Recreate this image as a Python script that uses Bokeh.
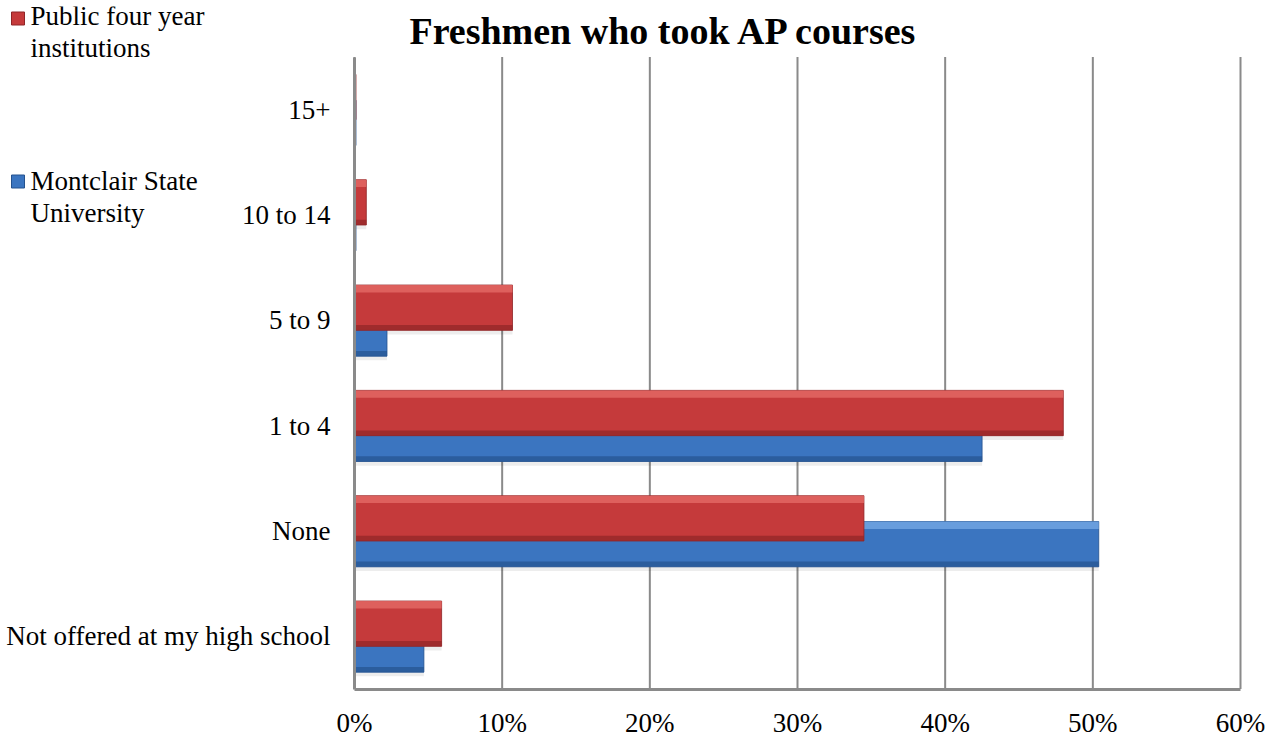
from bokeh.plotting import figure
from bokeh.models import (FactorRange, Range1d, FixedTicker, NumeralTickFormatter,
                          Label, ColumnDataSource)
from bokeh.transform import dodge
from bokeh.embed import file_html
from bokeh.resources import INLINE

# ---------------- data ----------------
title_text = "Freshmen who took AP courses"
categories = ["Not offered at my high school", "None", "1 to 4", "5 to 9", "10 to 14", "15+"]
public_four_year = [0.059, 0.345, 0.480, 0.107, 0.008, 0.001]
montclair_state = [0.047, 0.504, 0.425, 0.022, 0.001, 0.001]
x_ticks = [0.0, 0.1, 0.2, 0.3, 0.4, 0.5, 0.6]
legend_lines = [["Public four year", "institutions"], ["Montclair State", "University"]]

# ---------------- style / geometry ----------------
FONT = "Liberation Serif"
RED, RED_L, RED_D = "#C53A3B", "#E46A66", "#8F2527"
BLUE, BLUE_L, BLUE_D = "#3B75C0", "#74A7E3", "#25528E"
GRAY = "#8a8a8a"
W, HGT = 1282, 739
FR_TOP = 6                       # frame starts 6px below the top of the canvas
PLOT_L, PLOT_R = 354, 1240       # pixel extent of the 0%..60% scale
BAND = 632 / len(categories)     # pixel height of one category band
XMAX = x_ticks[-1]
pxu = (PLOT_R - PLOT_L) / XMAX
PAD = ((HGT - FR_TOP) - BAND * len(categories)) / 2 / BAND

def dx(px):
    return (px - PLOT_L) / pxu

def dy(py):
    return len(categories) + PAD - (py - FR_TOP) / BAND

src = ColumnDataSource(dict(cat=categories, pub=public_four_year, msu=montclair_state))
grid_src = ColumnDataSource(dict(x=x_ticks, lo=[categories[0]] * len(x_ticks),
                                 hi=[categories[-1]] * len(x_ticks)))

p = figure(title=None,
           y_range=FactorRange(factors=categories, range_padding=PAD, range_padding_units="absolute"),
           x_range=Range1d(dx(0), dx(W)),
           frame_width=W, frame_height=HGT - FR_TOP,
           min_border_left=0, min_border_right=0, min_border_top=FR_TOP, min_border_bottom=0,
           output_backend="svg", toolbar_location=None, background_fill_color="white",
           border_fill_color="white", outline_line_color=None)
p.grid.visible = False

# vertical grid lines restricted to the category area
p.segment(x0='x', x1='x', y0=dodge('lo', -0.5, range=p.y_range), y1=dodge('hi', 0.5, range=p.y_range),
          source=grid_src, line_color=GRAY, line_width=2)

H = 0.43
OFF_R, OFF_B = 0.12, -0.125

for off, col in ((OFF_B, 'msu'), (OFF_R, 'pub')):
    p.hbar(y=dodge('cat', off - 0.04, range=p.y_range), left=0, right=col, height=H,
           source=src, fill_color="#000000", fill_alpha=0.07, line_color=None)

def bar(off, col, base, light, dark):
    p.hbar(y=dodge('cat', off, range=p.y_range), left=0, right=col, height=H,
           source=src, fill_color=base, line_color=dark, line_width=0.8)
    p.hbar(y=dodge('cat', off + H / 2 - 0.035, range=p.y_range), left=0, right=col, height=0.07,
           source=src, fill_color=light, fill_alpha=0.8, line_color=None)
    p.hbar(y=dodge('cat', off - H / 2 + 0.025, range=p.y_range), left=0, right=col, height=0.05,
           source=src, fill_color=dark, fill_alpha=0.7, line_color=None)

bar(OFF_B, 'msu', BLUE, BLUE_L, BLUE_D)   # Montclair behind
bar(OFF_R, 'pub', RED, RED_L, RED_D)      # Public in front

# axes fixed at the edges of the data area
xa = p.xaxis[0]
xa.fixed_location = 0
xa.bounds = (0, XMAX)
xa.ticker = FixedTicker(ticks=x_ticks)
xa.formatter = NumeralTickFormatter(format="0%")
xa.major_label_text_font = FONT
xa.major_label_text_font_size = "27px"
xa.major_label_text_color = "black"
xa.major_label_standoff = 19
xa.major_tick_line_color = None
xa.major_tick_out = 0
xa.minor_tick_line_color = None
xa.axis_line_color = GRAY
xa.axis_line_width = 3

ya = p.yaxis[0]
ya.fixed_location = 0
ya.bounds = (0, len(categories))
ya.major_label_text_font = FONT
ya.major_label_text_font_size = "27px"
ya.major_label_text_color = "black"
ya.major_label_standoff = 24
ya.major_tick_line_color = None
ya.major_tick_out = 0
ya.axis_line_color = GRAY
ya.axis_line_width = 3

# title
p.add_layout(Label(x=dx(664), y=dy(30), text=title_text, text_font=FONT, text_font_size="38px",
                   text_font_style="bold", text_align="center", text_baseline="middle",
                   text_color="black"))

# legend
for (l1, l2), sq_y, mid_y, base, dark in ((legend_lines[0], 18, 15, RED, RED_D),
                                          (legend_lines[1], 181, 180, BLUE, BLUE_D)):
    p.scatter(x=[dx(17.5)], y=[dy(sq_y)], marker="square", size=13, fill_color=base,
              line_color=dark, line_width=1)
    p.add_layout(Label(x=dx(30), y=dy(mid_y), text=l1, text_font=FONT, text_font_size="27px",
                       text_baseline="middle", text_color="black"))
    p.add_layout(Label(x=dx(30), y=dy(mid_y + 32), text=l2, text_font=FONT, text_font_size="27px",
                       text_baseline="middle", text_color="black"))

open("out.html", "w").write(file_html(p, INLINE))
